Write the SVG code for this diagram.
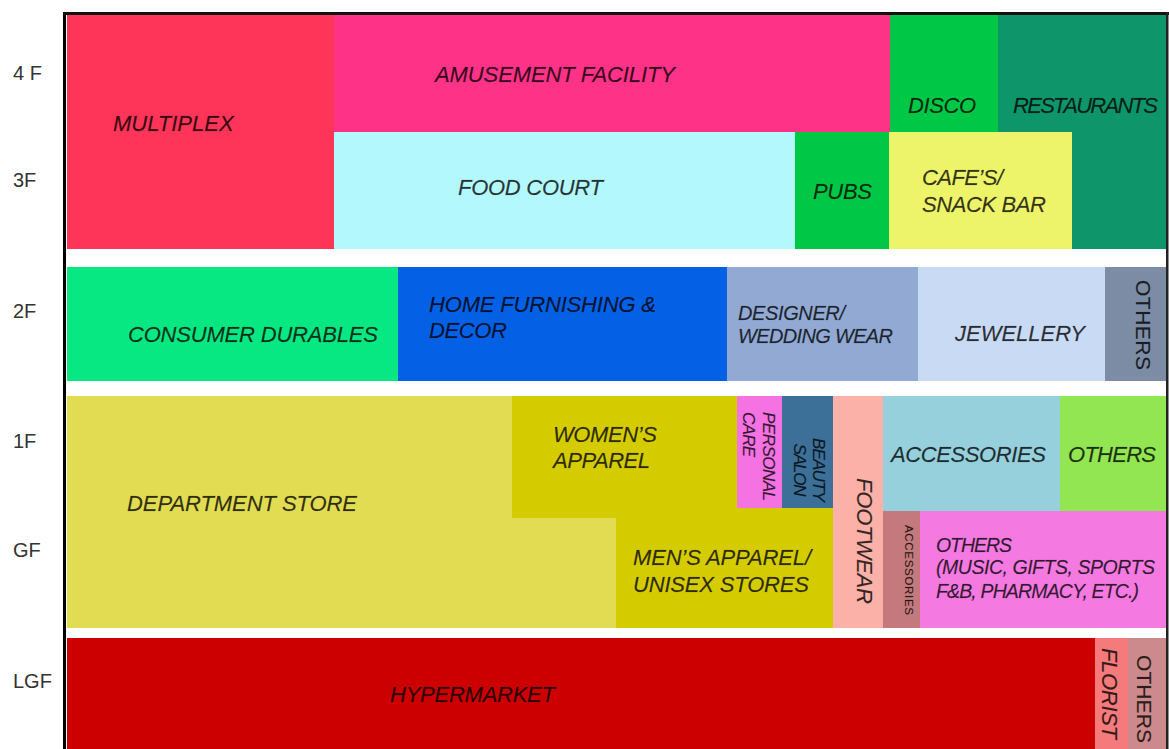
<svg xmlns="http://www.w3.org/2000/svg" width="1169" height="749" viewBox="0 0 1169 749">
  <style>
    text { font-family: "Liberation Sans", Arial, sans-serif; }
    .lbl { font-size: 22px; font-style: italic; fill: #000; fill-opacity: 0.78; stroke: #000; stroke-opacity: 0.35; stroke-width: 0.4; }
    .up { font-size: 21px; fill: #000; fill-opacity: 0.78; stroke: #000; stroke-opacity: 0.35; stroke-width: 0.4; }
    .flr { font-size: 20px; fill: #333; }
    .mid { text-anchor: middle; }
  </style>

  <rect x="0" y="0" width="1169" height="749" fill="#ffffff"/>

  <!-- floor names down the left margin -->
  <g id="floors">
    <text class="flr" x="13" y="80">4 F</text>
    <text class="flr" x="13" y="187">3F</text>
    <text class="flr" x="13" y="318">2F</text>
    <text class="flr" x="13" y="448">1F</text>
    <text class="flr" x="13" y="557">GF</text>
    <text class="flr" x="13" y="688">LGF</text>
  </g>

  <!-- 4F / 3F block -->
  <g id="multiplex">
    <rect x="67" y="15" width="267" height="234" fill="#FE3458"/>
    <text class="lbl" x="113" y="131">MULTIPLEX</text>
  </g>
  <g id="amusement">
    <rect x="334" y="15" width="556" height="117" fill="#FE3388"/>
    <text class="lbl" x="435" y="82" textLength="240">AMUSEMENT FACILITY</text>
  </g>
  <g id="food-court">
    <rect x="334" y="132" width="461" height="117" fill="#B3F8FC"/>
    <text class="lbl" x="458" y="195" textLength="145">FOOD COURT</text>
  </g>
  <g id="disco">
    <rect x="890" y="15" width="109" height="117" fill="#00C846"/>
    <text class="lbl" x="908" y="113" textLength="68">DISCO</text>
  </g>
  <g id="restaurants">
    <rect x="998" y="15" width="168" height="234" fill="#0E966A"/>
    <text class="lbl" x="1013" y="113" textLength="145">RESTAURANTS</text>
  </g>
  <g id="pubs">
    <rect x="795" y="132" width="94" height="117" fill="#00C846"/>
    <text class="lbl" x="813" y="199" textLength="59">PUBS</text>
  </g>
  <g id="cafes">
    <rect x="889" y="132" width="183" height="117" fill="#EEF46A"/>
    <text class="lbl" x="922" y="185" textLength="81">CAFE’S/</text>
    <text class="lbl" x="922" y="212" textLength="124">SNACK BAR</text>
  </g>

  <!-- 2F row -->
  <g id="consumer-durables">
    <rect x="67" y="267" width="331" height="114" fill="#08E882"/>
    <text class="lbl" x="128" y="342" textLength="250">CONSUMER DURABLES</text>
  </g>
  <g id="home-furnishing">
    <rect x="398" y="267" width="329" height="114" fill="#0461E6"/>
    <text class="lbl" x="429" y="312" textLength="227">HOME FURNISHING &amp;</text>
    <text class="lbl" x="429" y="338" textLength="78">DECOR</text>
  </g>
  <g id="designer-wear">
    <rect x="727" y="267" width="191" height="114" fill="#91A9D3"/>
    <text class="lbl" x="738" y="320" style="font-size:20px" textLength="107">DESIGNER/</text>
    <text class="lbl" x="738" y="343" style="font-size:20px" textLength="155">WEDDING WEAR</text>
  </g>
  <g id="jewellery">
    <rect x="918" y="267" width="187" height="114" fill="#C8DAF4"/>
    <text class="lbl" x="955" y="341" textLength="130">JEWELLERY</text>
  </g>
  <g id="others-2f">
    <rect x="1105" y="267" width="61" height="114" fill="#7C8CA4"/>
    <text class="up" transform="translate(1136,280) rotate(90)" textLength="90">OTHERS</text>
  </g>

  <!-- 1F / GF block -->
  <g id="department-store">
    <rect x="67" y="396" width="766" height="232" fill="#E2DC52"/>
    <text class="lbl" x="127" y="511" textLength="230">DEPARTMENT STORE</text>
  </g>
  <g id="apparel">
    <path d="M512,396 H737 V508 H833 V628 H616 V518 H512 Z" fill="#D5CC00"/>
    <text class="lbl" x="553" y="442" textLength="104">WOMEN’S</text>
    <text class="lbl" x="553" y="468" textLength="97">APPAREL</text>
    <text class="lbl" x="633" y="565" textLength="178">MEN’S APPAREL/</text>
    <text class="lbl" x="633" y="592" textLength="176">UNISEX STORES</text>
  </g>
  <g id="personal-care">
    <rect x="737" y="396" width="45" height="112" fill="#F472E2"/>
    <text class="lbl" style="font-size:17px" transform="translate(763,412) rotate(90)" textLength="89">PERSONAL</text>
    <text class="lbl" style="font-size:17px" transform="translate(743,412) rotate(90)" textLength="45">CARE</text>
  </g>
  <g id="beauty-salon">
    <rect x="782" y="396" width="51" height="112" fill="#3C7098"/>
    <text class="lbl mid" style="font-size:17px" transform="translate(813,470) rotate(90)" textLength="64">BEAUTY</text>
    <text class="lbl mid" style="font-size:17px" transform="translate(794,470) rotate(90)" textLength="53">SALON</text>
  </g>
  <g id="footwear">
    <rect x="833" y="396" width="50" height="232" fill="#FBB0A8"/>
    <text class="lbl" transform="translate(857,478) rotate(90)" textLength="126">FOOTWEAR</text>
  </g>
  <g id="accessories-1f">
    <rect x="883" y="396" width="178" height="115" fill="#96D0DC"/>
    <text class="lbl" x="891" y="462" textLength="155">ACCESSORIES</text>
  </g>
  <g id="others-1f">
    <rect x="1060" y="396" width="106" height="115" fill="#92E652"/>
    <text class="lbl" x="1068" y="462" textLength="88">OTHERS</text>
  </g>
  <g id="accessories-gf">
    <rect x="883" y="511" width="37" height="117" fill="#C47A7C"/>
    <text class="up" style="font-size:11.5px" transform="translate(905,525) rotate(90)" textLength="90">ACCESSORIES</text>
  </g>
  <g id="others-gf">
    <rect x="920" y="511" width="246" height="117" fill="#F47AE2"/>
    <text class="lbl" style="font-size:19.5px" x="936" y="552" textLength="76">OTHERS</text>
    <text class="lbl" style="font-size:19.5px" x="936" y="574" textLength="219">(MUSIC, GIFTS, SPORTS</text>
    <text class="lbl" style="font-size:19.5px" x="936" y="598" textLength="203">F&amp;B, PHARMACY, ETC.)</text>
  </g>

  <!-- LGF row -->
  <g id="hypermarket">
    <rect x="67" y="638" width="1028" height="111" fill="#CC0000"/>
    <text class="lbl" x="390" y="702" textLength="165">HYPERMARKET</text>
  </g>
  <g id="florist">
    <rect x="1095" y="638" width="33" height="111" fill="#F47A7C"/>
    <text class="lbl" transform="translate(1102,648) rotate(90)" textLength="91">FLORIST</text>
  </g>
  <g id="others-lgf">
    <rect x="1128" y="638" width="38" height="111" fill="#CC8A8C"/>
    <text class="up" transform="translate(1137,655) rotate(90)" textLength="88">OTHERS</text>
  </g>

  <!-- outer frame -->
  <g id="frame">
    <rect x="63" y="12" width="3" height="737" fill="#000"/>
    <rect x="63" y="12" width="1106" height="3" fill="#111"/>
    <rect x="1166" y="12" width="2.5" height="737" fill="#222"/>
  </g>
</svg>
